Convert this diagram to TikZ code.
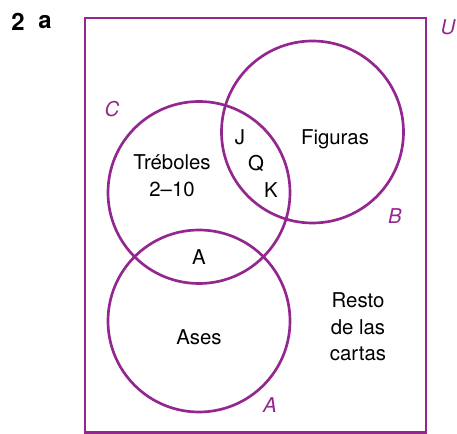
\documentclass[tikz,border=0pt]{standalone}
\usepackage{fontspec}
\setmainfont{TeX Gyre Heros}
\usepackage{tikz}
\usetikzlibrary{positioning}
\definecolor{vennpurple}{RGB}{147,39,143}

\begin{document}
\begin{tikzpicture}[
    setline/.style={draw=vennpurple, line width=1.9pt},
    setname/.style={text=vennpurple, font=\fontsize{14.5}{17}\selectfont\itshape},
    region/.style={font=\fontsize{14.5}{19}\selectfont, align=center}
  ]
  \useasboundingbox (0,0) rectangle (11.425,10.85);

  % exercise number
  \node[font=\fontsize{17}{20}\selectfont\bfseries] (num) at (0.45,10.3) {2};
  \node[font=\fontsize{17}{20}\selectfont\bfseries] (part) at (1.125,10.3) {a};

  % universe
  \draw[setline, line width=2.1pt] (2.125,0.03) rectangle (10.65,10.4);
  \node[setname] (U) at (11.2,10.175) {U};

  % sets
  \draw[setline] (4.975,6.0375) circle (2.275);
  \draw[setline] (7.8125,7.55) circle (2.275);
  \draw[setline] (4.975,2.825) circle (2.275);

  \node[setname] (C) at (2.8,8.125) {C};
  \node[setname] (B) at (9.875,5.45) {B};
  \node[setname] (A) at (6.75,0.725) {A};

  % regions
  \node[region] (jack) at (6.0,7.425) {J};
  \node[region] (queen) at (6.4,6.775) {Q};
  \node[region] (king) at (6.775,6.1) {K};
  \node[region] (figuras) at (8.375,7.37) {Figuras};
  \node[region] (treboles) at (4.3,6.45) {Tréboles\\2--10};
  \node[region] (ace) at (4.975,4.425) {A};
  \node[region] (ases) at (4.975,2.425) {Ases};
  \node[region] (resto) at (8.95,2.675) {Resto\\de las\\cartas};
\end{tikzpicture}
\end{document}
